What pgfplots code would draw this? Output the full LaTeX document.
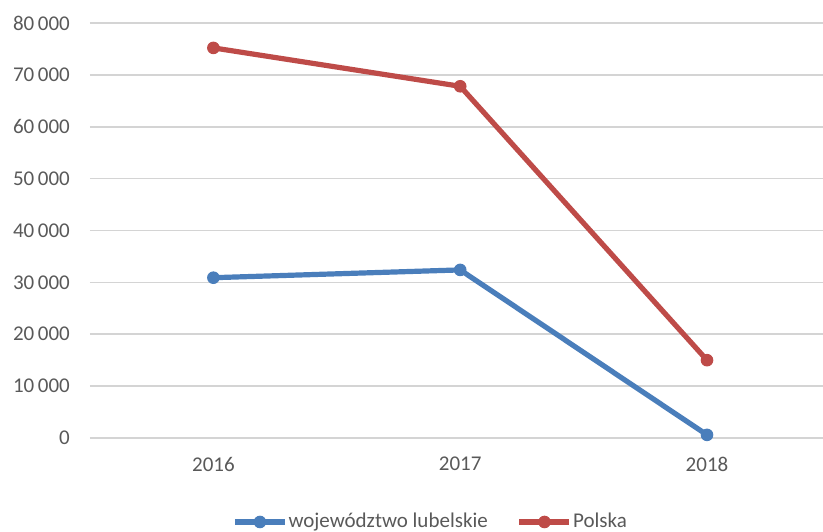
\documentclass[border=0pt]{standalone}
\usepackage{fontspec}
\setmainfont{Carlito}
\usepackage{pgfplots}
\pgfplotsset{compat=1.18}
\definecolor{blueA}{HTML}{4A7EBB}
\definecolor{redA}{HTML}{BE4B48}
\definecolor{txt}{HTML}{595959}
\definecolor{gridc}{HTML}{D4D4D4}
\begin{document}
\fontsize{21}{25}\selectfont
\begin{tikzpicture}
\begin{axis}[name=ax, scale only axis, width=733pt, height=415pt,
 xmin=-0.5, xmax=2.47, ymin=0, ymax=80000,
 xtick={0,1,2}, xticklabels={2016,2017,2018},
 ytick={0,10000,20000,30000,40000,50000,60000,70000,80000},
 scaled y ticks=false,
 axis line style={draw=none}, major tick length=0pt,
 ymajorgrids, grid style={gridc, line width=1.6pt},
 tick label style={text=txt, font=\fontsize{21}{25}\selectfont},
 yticklabel style={xshift=-13pt},
 xticklabel style={yshift=-12pt},
 /pgf/number format/1000 sep={\,},
 /pgf/number format/assume math mode=true,
 clip=false,
 legend style={at={(0.464,-0.2024)}, anchor=center, draw=none, fill=none,
   legend columns=2, text=txt, font=\fontsize{21}{25}\selectfont,
   /tikz/every even column/.append style={column sep=28pt},
   nodes={inner sep=1pt}},
 legend cell align=left,
 legend image code/.code={\draw[mark repeat=2, mark phase=2, #1] plot coordinates {(0pt,0pt) (25pt,0pt) (50pt,0pt)};},
]
\addplot[blueA, line width=5.2pt, mark=*, mark size=5.8pt, mark options={solid, line width=1pt}] coordinates {(0,30900) (1,32400) (2,600)};
\addlegendentry{województwo lubelskie}
\addplot[redA, line width=5.2pt, mark=*, mark size=5.8pt, mark options={solid, line width=1pt}] coordinates {(0,75200) (1,67800) (2,15000)};
\addlegendentry{Polska}
\end{axis}
\pgfresetboundingbox
\path ([shift={(-90pt,-94pt)}]ax.south west) rectangle ([shift={(0pt,23pt)}]ax.north east);
\end{tikzpicture}
\end{document}
